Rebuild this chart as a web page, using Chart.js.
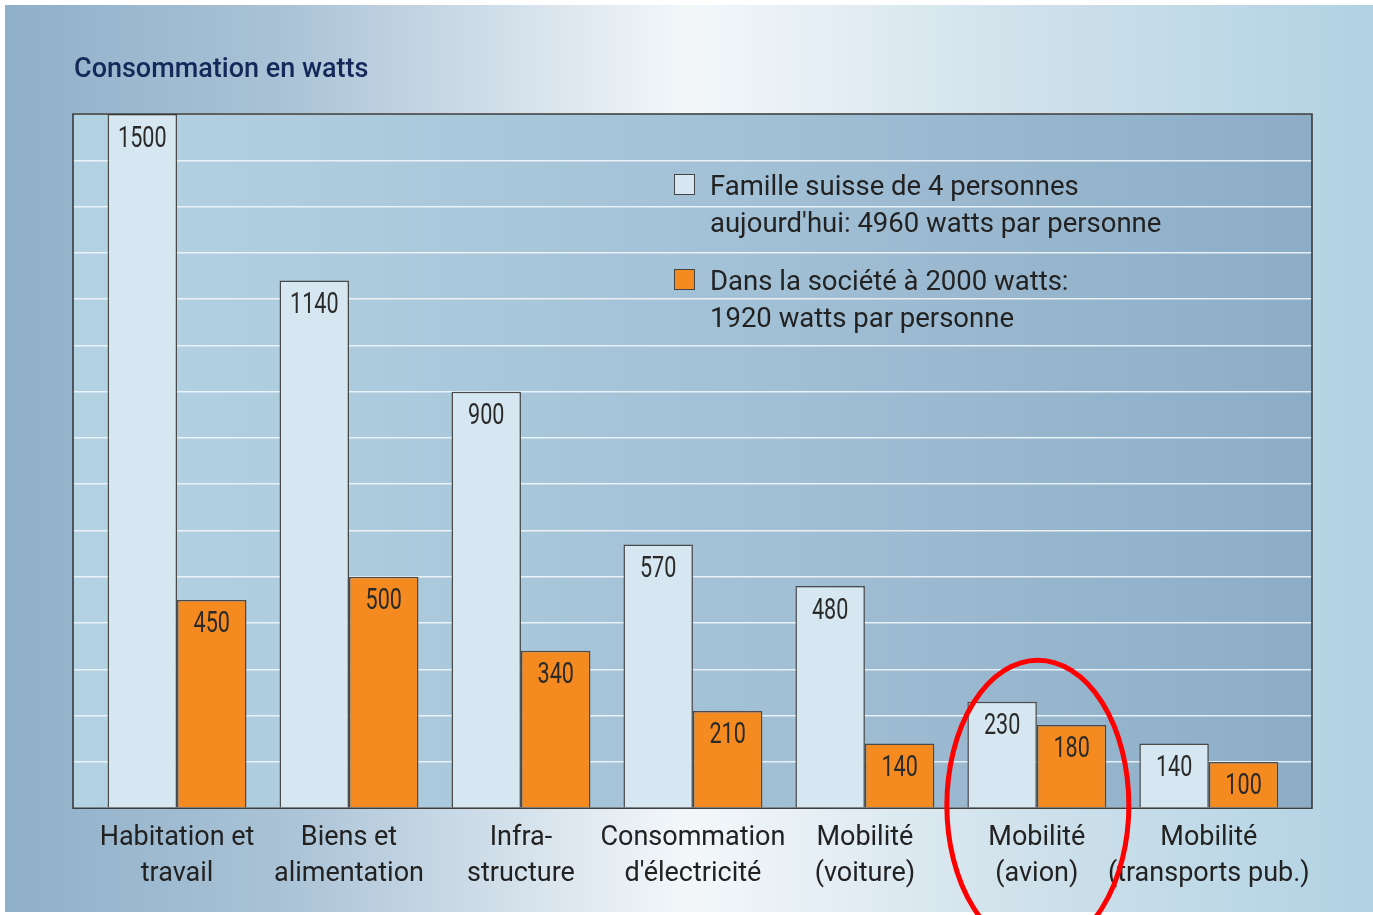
<!DOCTYPE html>
<html>
<head>
<meta charset="utf-8">
<script src="https://cdn.jsdelivr.net/npm/chart.js@4.4.1/dist/chart.umd.min.js"></script>
<style>
  html, body { margin: 0; padding: 0; background: #fff; }
  #wrap { position: relative; width: 1373px; height: 915px; }
</style>
</head>
<body>
<div id="wrap"><canvas id="chart"></canvas></div>
<script>
const chartTitle = 'Consommation en watts';
const categories = [
  ['Habitation et', 'travail'],
  ['Biens et', 'alimentation'],
  ['Infra-', 'structure'],
  ['Consommation', "d'électricité"],
  ['Mobilité', '(voiture)'],
  ['Mobilité', '(avion)'],
  ['Mobilité', '(transports pub.)']
];
const todayValues = [1500, 1140, 900, 570, 480, 230, 140];
const targetValues = [450, 500, 340, 210, 140, 180, 100];
const todayLegend = ['Famille suisse de 4 personnes', "aujourd'hui: 4960 watts par personne"];
const targetLegend = ['Dans la société à 2000 watts:', '1920 watts par personne'];
const highlightIndex = 5;

const lightFill = '#d6e7f1';
const orangeFill = '#f58b20';
const labelFont = 'Roboto, "Noto Sans", sans-serif';

const backdrop = {
  id: 'backdrop',
  beforeDraw(chart) {
    const { ctx, chartArea: a } = chart;
    ctx.save();
    const g = ctx.createLinearGradient(5, 0, 1373, 0);
    g.addColorStop(0, '#8fb0c9');
    g.addColorStop(0.2, '#a9c2d6');
    g.addColorStop(0.5, '#f3f7fa');
    g.addColorStop(0.75, '#cfe1eb');
    g.addColorStop(1, '#b1d2e3');
    ctx.fillStyle = g;
    ctx.fillRect(5, 5, 1368, 907);

    const p = ctx.createLinearGradient(a.left, 0, a.right, 0);
    p.addColorStop(0, '#b3d3e3');
    p.addColorStop(0.5, '#a4c2d7');
    p.addColorStop(1, '#8dadc7');
    ctx.fillStyle = p;
    ctx.fillRect(a.left, a.top, a.right - a.left, a.bottom - a.top);

    ctx.fillStyle = '#15285a';
    ctx.font = '500 27px ' + labelFont;
    ctx.textBaseline = 'middle';
    ctx.fillText(chartTitle, a.left + 1, 70);
    ctx.restore();
  }
};

const overlay = {
  id: 'overlay',
  afterDatasetsDraw(chart) {
    const { ctx, chartArea: a } = chart;
    const x = chart.scales.x;
    ctx.save();

    // frame
    ctx.strokeStyle = '#333';
    ctx.lineWidth = 1.5;
    ctx.strokeRect(a.left, a.top, a.right - a.left, a.bottom - a.top);

    // value labels, narrowed to look like the condensed original
    ctx.fillStyle = '#2a2a2a';
    ctx.font = '30px ' + labelFont;
    ctx.textAlign = 'center';
    ctx.textBaseline = 'middle';
    chart.data.datasets.forEach((ds, di) => {
      chart.getDatasetMeta(di).data.forEach((bar, i) => {
        ctx.save();
        ctx.translate(bar.x, bar.y + 25);
        ctx.scale(0.72, 1);
        ctx.fillText(String(ds.data[i].y), 0, 0);
        ctx.restore();
      });
    });

    // legend
    const lx = a.left + 601;
    const entries = [
      { lines: todayLegend, color: lightFill, top: a.top + 60 },
      { lines: targetLegend, color: orangeFill, top: a.top + 155 }
    ];
    ctx.textAlign = 'left';
    ctx.font = '27.5px ' + labelFont;
    entries.forEach(e => {
      ctx.fillStyle = e.color;
      ctx.fillRect(lx, e.top, 20, 20);
      ctx.strokeStyle = '#444';
      ctx.lineWidth = 1;
      ctx.strokeRect(lx + 0.5, e.top + 0.5, 20, 20);
      ctx.fillStyle = '#222';
      e.lines.forEach((line, k) => ctx.fillText(line, lx + 36, e.top + 14 + k * 37));
    });

    // red ellipse around highlighted category
    const cx = x.getPixelForValue(highlightIndex);
    ctx.strokeStyle = '#f00';
    ctx.lineWidth = 5;
    ctx.beginPath();
    ctx.ellipse(cx + 1, a.bottom - 3, 91, 145, 0, 0, Math.PI * 2);
    ctx.stroke();
    ctx.restore();
  }
};

new Chart(document.getElementById('chart'), {
  type: 'bar',
  data: {
    datasets: [
      {
        label: todayLegend.join(' '),
        data: todayValues.map((v, i) => ({ x: i, y: v })),
        backgroundColor: lightFill,
        borderColor: '#4a4a4a',
        borderWidth: 1.5,
        categoryPercentage: 0.808,
        barPercentage: 1
      },
      {
        label: targetLegend.join(' '),
        data: targetValues.map((v, i) => ({ x: i, y: v })),
        backgroundColor: orangeFill,
        borderColor: '#4a4a4a',
        borderWidth: 1.5,
        categoryPercentage: 0.808,
        barPercentage: 1
      }
    ]
  },
  options: {
    responsive: true,
    maintainAspectRatio: false,
    animation: false,
    layout: { padding: { left: 73, right: 61, top: 114, bottom: 19 } },
    plugins: {
      legend: { display: false },
      tooltip: { enabled: false },
      title: { display: false }
    },
    scales: {
      x: {
        type: 'linear',
        offset: false,
        min: -0.605,
        max: 6.6,
        afterBuildTicks: scale => {
          scale.ticks = categories.map((c, i) => ({ value: i }));
        },
        ticks: {
          autoSkip: false,
          maxRotation: 0,
          padding: 4,
          color: '#222',
          font: { family: labelFont, size: 27, lineHeight: 1.33 },
          callback: value => categories[value]
        },
        grid: { display: false, offset: false },
        border: { display: false }
      },
      y: {
        min: 0,
        max: 1500,
        ticks: { display: false, stepSize: 100 },
        grid: { color: 'rgba(240,246,250,0.9)', lineWidth: 1.5, drawTicks: false },
        border: { display: false }
      }
    }
  },
  plugins: [backdrop, overlay]
});
</script>
</body>
</html>
